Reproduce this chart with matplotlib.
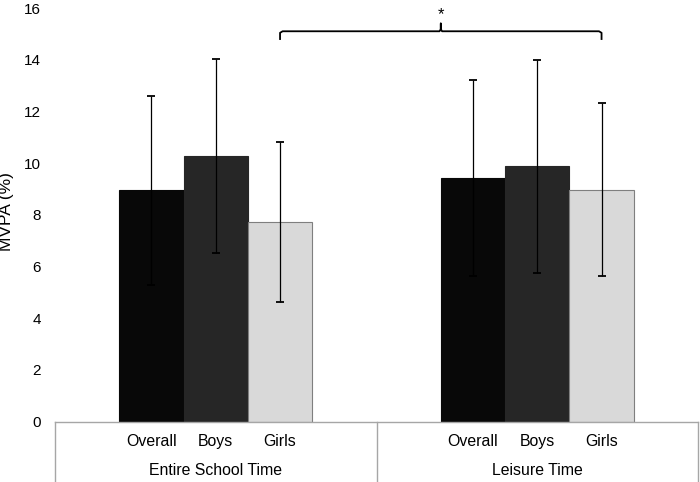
import numpy as np
import matplotlib.pyplot as plt

plt.rcParams["font.family"] = ["Liberation Sans", "DejaVu Sans"]

# data
groups = ["Entire School Time", "Leisure Time"]
categories = ["Overall", "Boys", "Girls"]
means = [[8.95, 10.28, 7.72],
         [9.42, 9.87, 8.97]]
sds = [[3.65, 3.74, 3.08],
       [3.78, 4.10, 3.35]]
colors = ["#080808", "#262626", "#d9d9d9"]
edges = ["#080808", "#262626", "#7f7f7f"]

fig = plt.figure(figsize=(7.0, 4.82), dpi=100)
ax = fig.add_axes([55 / 700, 1 - 421.7 / 482, 643 / 700, 413.7 / 482])

width = 0.2
for g in range(len(groups)):
    for i in range(len(categories)):
        x = g + 0.5 + (i - 1) * width
        ax.bar(x, means[g][i], width=width, color=colors[i],
               edgecolor=edges[i], linewidth=0.8, zorder=2)
        ax.errorbar(x, means[g][i], yerr=sds[g][i], fmt='none',
                    ecolor='k', elinewidth=0.9, capsize=3, capthick=1.3,
                    zorder=3)
        ax.text(x, -0.047, categories[i], transform=ax.get_xaxis_transform(),
                ha='center', va='center', fontsize=11.4)
    ax.text(g + 0.5, -0.117, groups[g], transform=ax.get_xaxis_transform(),
            ha='center', va='center', fontsize=11.4)

# separators under the axis
trans = ax.get_xaxis_transform()
for xs in [0, 1, 2]:
    ax.plot([xs, xs], [0, -0.16], transform=trans, color='#a6a6a6',
            lw=1.0, clip_on=False)

ax.set_xlim(0, 2)
ax.set_ylim(0, 16)
ax.set_yticks(np.arange(0, 17, 2))
ax.set_xticks([])
ax.tick_params(axis='y', length=0, pad=10, labelsize=11)
for s in ['top', 'right', 'left']:
    ax.spines[s].set_visible(False)
ax.spines['bottom'].set_color('#a6a6a6')
ax.spines['bottom'].set_linewidth(1.0)
fig.text(7 / 700, 1 - 212 / 482, 'MVPA (%)', rotation=90,
         ha='center', va='center', fontsize=12.5)

# significance bracket between the two Girls bars
x0 = 0.5 + width
x1 = 1.5 + width
xc = (x0 + x1) / 2
yb = 15.1
bx = [x0, x0, x0 + 0.008, xc - 0.004, xc, xc, xc, xc + 0.004, x1 - 0.008, x1, x1]
by = [14.8, yb - 0.06, yb, yb, yb + 0.08, yb + 0.3, yb + 0.08, yb, yb, yb - 0.06, 14.8]
ax.plot(bx, by, color='k', lw=1.3, clip_on=False)
ax.text(xc, 15.75, '*', ha='center', va='center', fontsize=12)

fig.savefig('out.png', dpi=100)
